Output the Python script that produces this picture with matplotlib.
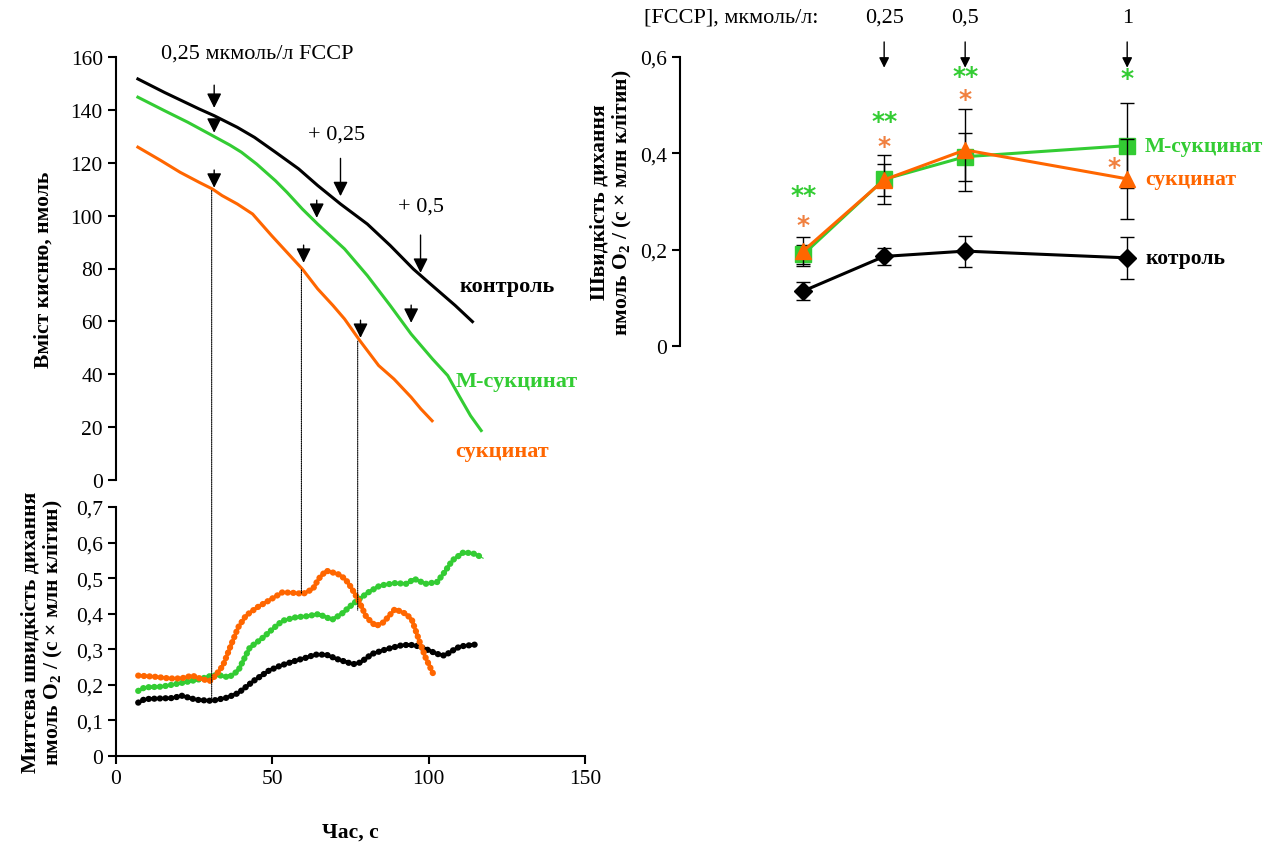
import matplotlib
matplotlib.use("Agg")
import matplotlib.pyplot as plt
from matplotlib.patches import ConnectionPatch

plt.rcParams['font.family'] = ['Liberation Serif', 'DejaVu Serif']
plt.rcParams['mathtext.fontset'] = 'custom'
plt.rcParams['mathtext.rm'] = 'Liberation Serif'
plt.rcParams['mathtext.bf'] = 'Liberation Serif:bold'

BLACK = '#000000'
GREEN = '#33cc33'
ORANGE = '#ff6600'
STAR_ORANGE = '#f08040'

# --- oxygen content, nmol (top-left) ---
t_ctrl = [7.0, 15.5, 26.5, 31.4, 38.8, 44.3, 51.0, 58.4, 64.5, 71.8, 80.4, 87.7, 95.1, 100.6, 108.5, 114.0]
o2_ctrl = [151.7, 146.6, 140.4, 137.8, 133.4, 129.6, 124.0, 117.7, 111.4, 104.4, 96.8, 88.7, 79.8, 74.1, 66.0, 59.9]
t_msuc = [7.0, 15.5, 23.0, 30.8, 36.4, 40.1, 45.0, 51.0, 54.7, 59.6, 64.5, 73.1, 80.4, 87.7, 94.4, 101.2, 106.1, 109.7, 113.4, 116.8]
o2_msuc = [144.8, 139.7, 135.3, 130.3, 126.7, 124.0, 119.5, 113.2, 108.8, 102.5, 96.8, 87.4, 77.3, 66.0, 55.2, 45.8, 39.5, 31.9, 24.3, 18.7]
t_suc = [7.0, 14.4, 20.5, 26.6, 30.8, 33.9, 38.8, 43.7, 49.8, 54.7, 59.6, 64.5, 69.4, 73.1, 78.0, 84.0, 88.9, 94.4, 97.5, 101.1]
o2_suc = [125.9, 120.8, 116.4, 112.6, 110.1, 107.6, 104.4, 100.6, 92.4, 86.1, 79.8, 72.3, 66.0, 60.9, 52.7, 43.3, 38.2, 31.3, 26.9, 22.4]

# FCCP additions: (time, arrow top, arrow tip)
arrows_ctrl = [(31.4, 150.4, 139.7), (71.8, 122.7, 106.3), (97.4, 93.7, 77.3)]
arrows_msuc = [(31.4, 135.3, 130.3), (64.2, 106.9, 98.1), (94.4, 67.2, 58.4)]
arrows_suc = [(31.4, 118.3, 109.5), (60.0, 89.9, 81.1), (78.2, 61.5, 52.7)]

# --- instantaneous respiration rate (bottom-left) ---
tr_ctrl = [7.1, 9.2, 14.7, 18.5, 20.8, 25.7, 30.6, 35.5, 39.1, 44.0, 48.9, 52.6, 57.5, 61.1, 63.6, 67.2, 70.9,
           75.8, 78.2, 81.9, 86.8, 91.7, 95.4, 99.0, 102.7, 105.1, 107.6, 110.0, 114.7]
r_ctrl = [0.150, 0.160, 0.162, 0.163, 0.170, 0.158, 0.155, 0.164, 0.177, 0.211, 0.240, 0.254, 0.268, 0.277, 0.285,
          0.285, 0.272, 0.258, 0.263, 0.287, 0.301, 0.312, 0.312, 0.301, 0.287, 0.282, 0.296, 0.308, 0.313]
tr_msuc = [7.1, 9.2, 14.7, 20.8, 26.9, 30.6, 33.0, 36.1, 39.1, 42.8, 46.5, 50.1, 53.2, 57.5, 61.1, 64.8, 69.1,
           72.1, 75.8, 80.7, 84.4, 89.2, 92.9, 95.4, 99.0, 102.7, 105.1, 107.6, 111.2, 114.9, 117.4]
r_msuc = [0.183, 0.193, 0.195, 0.205, 0.216, 0.226, 0.227, 0.221, 0.240, 0.305, 0.329, 0.357, 0.380, 0.390, 0.393,
          0.399, 0.383, 0.399, 0.428, 0.460, 0.479, 0.486, 0.484, 0.498, 0.484, 0.489, 0.517, 0.550, 0.573, 0.568, 0.556]
tr_suc = [7.1, 12.2, 17.1, 20.8, 24.4, 27.5, 30.0, 31.8, 34.2, 36.7, 39.1, 41.6, 45.2, 48.9, 53.2, 56.2, 59.9,
          63.0, 64.8, 67.2, 70.9, 73.3, 75.2, 77.6, 80.1, 83.1, 85.6, 89.2, 92.9, 94.7, 97.2, 99.0, 101.5]
r_suc = [0.226, 0.223, 0.218, 0.218, 0.226, 0.216, 0.211, 0.226, 0.254, 0.310, 0.362, 0.395, 0.418, 0.437, 0.460,
         0.459, 0.456, 0.470, 0.498, 0.521, 0.512, 0.498, 0.474, 0.437, 0.390, 0.365, 0.376, 0.413, 0.399, 0.381,
         0.319, 0.277, 0.230]

# guide lines: (time, top-panel value, bottom-panel value)
guides = [(30.6, 109.5, 0.157), (59.3, 79.5, 0.458), (77.3, 52.5, 0.41)]

# --- respiration rate vs FCCP (right) ---
fccp = [0, 0.25, 0.5, 1]
rate_ctrl = [0.114, 0.186, 0.197, 0.183]
err_ctrl = [0.018, 0.017, 0.032, 0.043]
rate_msuc = [0.190, 0.346, 0.393, 0.416]
err_msuc = [0.020, 0.051, 0.050, 0.088]
rate_suc = [0.197, 0.345, 0.407, 0.347]
err_suc = [0.030, 0.033, 0.086, 0.083]
stars_msuc = [('**', 0, 0.314), ('**', 0.25, 0.468), ('**', 0.5, 0.560), ('*', 1, 0.556)]
stars_suc = [('*', 0, 0.252), ('*', 0.25, 0.416), ('*', 0.5, 0.512), ('*', 0.96, 0.372)]
fccp_labels = ['0,25', '0,5', '1']
fccp_marks = [0.25, 0.5, 1]

fig = plt.figure(figsize=(12.77, 8.45), dpi=100)
W, H = 1277, 845
ax1 = fig.add_axes([116 / W, 1 - 481 / H, (585 - 116) / W, (481 - 58) / H])
ax2 = fig.add_axes([116 / W, 1 - 757 / H, (585 - 116) / W, (757 - 508) / H])
ax3 = fig.add_axes([680 / W, 1 - 347 / H, (1273 - 680) / W, (347 - 58) / H])

TICK_FS = 15.5
LAB_FS = 15.5
TXT_FS = 16

# top-left
ax1.plot(t_ctrl, o2_ctrl, color=BLACK, lw=2.2)
ax1.plot(t_msuc, o2_msuc, color=GREEN, lw=2.2)
ax1.plot(t_suc, o2_suc, color=ORANGE, lw=2.2)
for t, y0, y1 in arrows_ctrl + arrows_msuc + arrows_suc:
    ax1.annotate('', xy=(t, y1), xytext=(t, y0),
                 arrowprops=dict(arrowstyle='-|>', color=BLACK, lw=1, mutation_scale=22))
ax1.set_xlim(0, 150)
ax1.set_ylim(0, 160)
ax1.set_yticks(range(0, 161, 20))
ax1.set_xticks([])
for s in ['top', 'right', 'bottom']:
    ax1.spines[s].set_visible(False)
ax1.spines['left'].set_linewidth(1.5)
ax1.tick_params(axis='y', labelsize=TICK_FS, length=6, width=1.5)
ax1.set_ylabel('Вміст кисню, нмоль', fontsize=LAB_FS, fontweight='bold', labelpad=12)
ax1.text(14.4, 161.5, '0,25 мкмоль/л FCCP', fontsize=TXT_FS, va='center')
ax1.text(61.4, 131, '+ 0,25', fontsize=TXT_FS, va='center')
ax1.text(90.2, 103.8, '+ 0,5', fontsize=TXT_FS, va='center')
ax1.text(109.8, 73.5, 'контроль', fontsize=TXT_FS, fontweight='bold', color=BLACK, va='center')
ax1.text(108.6, 37.6, 'М-сукцинат', fontsize=TXT_FS, fontweight='bold', color=GREEN, va='center')
ax1.text(108.6, 11.1, 'сукцинат', fontsize=TXT_FS, fontweight='bold', color=ORANGE, va='center')

# bottom-left: densely dotted traces
for tt, rr, col in [(tr_ctrl, r_ctrl, BLACK), (tr_msuc, r_msuc, GREEN), (tr_suc, r_suc, ORANGE)]:
    ax2.plot(tt, rr, color=col, lw=0.8)
    ax2.plot(tt, rr, color=col, lw=4.5, linestyle=(0, (0.05, 0.85)), dash_capstyle='round')
ax2.set_xlim(0, 150)
ax2.set_ylim(0, 0.7)
ax2.set_xticks([0, 50, 100, 150])
ax2.set_yticks([0, 0.1, 0.2, 0.3, 0.4, 0.5, 0.6, 0.7])
ax2.set_yticklabels(['0', '0,1', '0,2', '0,3', '0,4', '0,5', '0,6', '0,7'])
for s in ['top', 'right']:
    ax2.spines[s].set_visible(False)
for s in ['left', 'bottom']:
    ax2.spines[s].set_linewidth(1.5)
ax2.tick_params(labelsize=TICK_FS, length=6, width=1.5)
ax2.set_xlabel('Час, с', fontsize=LAB_FS, fontweight='bold', labelpad=24)
ax2.set_ylabel('Миттєва швидкість дихання\nнмоль O$_{\\mathbf{2}}$ / (с × млн клітин)',
               fontsize=LAB_FS, fontweight='bold', labelpad=8, linespacing=1.1)

for t, ytop, ybot in guides:
    con = ConnectionPatch(xyA=(t, ytop), coordsA=ax1.transData, xyB=(t, ybot), coordsB=ax2.transData,
                          color=BLACK, lw=0.8, linestyle=(0, (1, 1)))
    fig.add_artist(con)

# right
ax3.errorbar(fccp, rate_ctrl, yerr=err_ctrl, color=BLACK, lw=2.2, marker='D', ms=9,
             ecolor=BLACK, elinewidth=1, capsize=5, capthick=1, zorder=3)
ax3.errorbar(fccp, rate_msuc, yerr=err_msuc, color=GREEN, lw=2.2, marker='s', ms=11,
             ecolor=BLACK, elinewidth=1, capsize=5, capthick=1, zorder=4)
ax3.errorbar(fccp, rate_suc, yerr=err_suc, color=ORANGE, lw=2.2, marker='^', ms=11,
             ecolor=BLACK, elinewidth=1, capsize=5, capthick=1, zorder=5)
for txt, x, y in stars_msuc:
    ax3.text(x, y, txt, color=GREEN, fontsize=18, fontweight='bold', ha='center', va='center',
             family='DejaVu Sans')
for txt, x, y in stars_suc:
    ax3.text(x, y, txt, color=STAR_ORANGE, fontsize=18, fontweight='bold', ha='center', va='center',
             family='DejaVu Sans')
ax3.text(1.055, 0.416, 'М-сукцинат', fontsize=15.5, fontweight='bold', color=GREEN, va='center')
ax3.text(1.055, 0.347, 'сукцинат', fontsize=15.5, fontweight='bold', color=ORANGE, va='center')
ax3.text(1.055, 0.183, 'котроль', fontsize=15.5, fontweight='bold', color=BLACK, va='center')
ax3.text(0.046, 0.683, '[FCCP], мкмоль/л:', fontsize=TXT_FS, ha='right', va='center')
for lab, x in zip(fccp_labels, fccp_marks):
    ax3.text(x, 0.683, lab, fontsize=TXT_FS, ha='center', va='center')
    ax3.annotate('', xy=(x, 0.572), xytext=(x, 0.637), annotation_clip=False,
                 arrowprops=dict(arrowstyle='-|>', color=BLACK, lw=1, mutation_scale=15))
ax3.set_xlim(-0.38, 1.45)
ax3.set_ylim(0, 0.6)
ax3.set_yticks([0, 0.2, 0.4, 0.6])
ax3.set_yticklabels(['0', '0,2', '0,4', '0,6'])
ax3.set_xticks([])
for s in ['top', 'right', 'bottom']:
    ax3.spines[s].set_visible(False)
ax3.spines['left'].set_linewidth(1.5)
ax3.tick_params(axis='y', labelsize=TICK_FS, length=6, width=1.5)
ax3.set_ylabel('Швидкість дихання\nнмоль O$_{\\mathbf{2}}$ / (с × млн клітин)',
               fontsize=LAB_FS, fontweight='bold', labelpad=4, linespacing=1.1)

fig.savefig('out.png', dpi=100)
